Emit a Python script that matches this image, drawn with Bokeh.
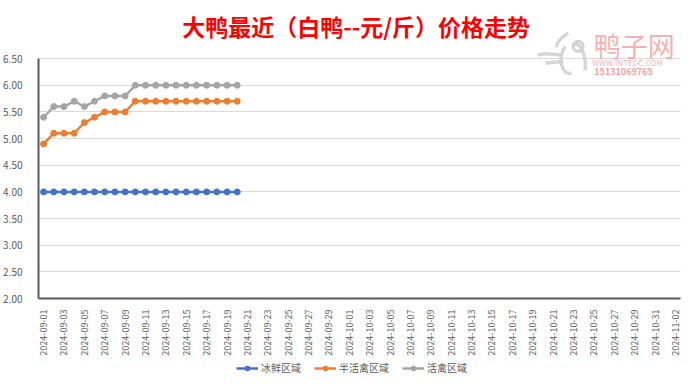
import pandas as pd
from bokeh.plotting import figure
from bokeh.layouts import column
from bokeh.models import (ColumnDataSource, FixedTicker, NumeralTickFormatter,
                          Legend, LegendItem, Label, Range1d)
from bokeh.embed import file_html
from bokeh.resources import INLINE

# ---- data ----
all_dates = [d.strftime("%Y-%m-%d") for d in pd.date_range("2024-09-01", "2024-11-02", freq="D")]
data_dates = all_dates[:20]  # 2024-09-01 .. 2024-09-20
series_names = ["冰鲜区域", "半活禽区域", "活禽区域"]
bingxian = [4.0] * 20
banhuoqin = [4.9, 5.1, 5.1, 5.1, 5.3, 5.4, 5.5, 5.5, 5.5,
             5.7, 5.7, 5.7, 5.7, 5.7, 5.7, 5.7, 5.7, 5.7, 5.7, 5.7]
huoqin = [5.4, 5.6, 5.6, 5.7, 5.6, 5.7, 5.8, 5.8, 5.8,
          6.0, 6.0, 6.0, 6.0, 6.0, 6.0, 6.0, 6.0, 6.0, 6.0, 6.0]
y_ticks = [2.0, 2.5, 3.0, 3.5, 4.0, 4.5, 5.0, 5.5, 6.0, 6.5]
colors = ["#4472C4", "#ED7D31", "#A5A5A5"]
title_text = "大鸭最近（白鸭--元/斤）价格走势"

FONT = "Noto Sans CJK SC"
TXT = "#595959"
Y_TOP = 7.44  # head-room above the last tick for title / watermark

x_idx = [all_dates.index(d) for d in data_dates]
sources = [ColumnDataSource(dict(x=x_idx, y=v)) for v in (bingxian, banhuoqin, huoqin)]

p = figure(width=684, height=358, output_backend="svg", toolbar_location=None,
           title=None,
           x_range=Range1d(-0.5, len(all_dates) - 0.5), y_range=Range1d(2.0, Y_TOP),
           min_border_left=28, min_border_right=4, min_border_top=8, min_border_bottom=59)
p.outline_line_color = None
p.background_fill_color = "white"


# helpers mapping reference-pixel positions (decorations only) into data space
def dx(px):
    return (px - 36) / 10.33 - 0.5


def dy(py):
    return 6.5 - (py - 59.3) / 53.3


for src, c in zip(sources, colors):
    p.line("x", "y", source=src, line_color=c, line_width=2.5)
    p.scatter("x", "y", source=src, size=6, fill_color=c, line_color=c)

# axes
p.yaxis.ticker = FixedTicker(ticks=y_ticks)
p.yaxis.bounds = (y_ticks[0], y_ticks[-1])
p.yaxis.formatter = NumeralTickFormatter(format="0.00")
p.yaxis.major_label_text_font = FONT
p.yaxis.major_label_text_font_size = "10px"
p.yaxis.major_label_text_color = TXT
p.yaxis.axis_line_color = TXT
p.yaxis.axis_line_width = 2
p.yaxis.major_tick_line_color = None
p.yaxis.minor_tick_line_color = None
p.yaxis.major_label_standoff = 10

tick_pos = list(range(0, len(all_dates), 2))
p.xaxis.ticker = FixedTicker(ticks=tick_pos)
p.xaxis.major_label_overrides = {i: all_dates[i] for i in tick_pos}
p.xaxis.major_label_orientation = 3.14159265 / 2
p.xaxis.major_label_text_font = FONT
p.xaxis.major_label_text_font_size = "9px"
p.xaxis.major_label_text_color = TXT
p.xaxis.axis_line_color = TXT
p.xaxis.axis_line_width = 2
p.xaxis.major_tick_line_color = None
p.xaxis.minor_tick_line_color = None
p.xaxis.major_label_standoff = 5

p.xgrid.grid_line_color = None
p.ygrid.grid_line_color = "#D9D9D9"
p.ygrid.grid_line_width = 1

# title
p.add_layout(Label(x=dx(358), y=dy(27), text=title_text, text_align="center",
                   text_baseline="middle", text_font=FONT, text_font_size="23px",
                   text_font_style="bold", text_color="#FF0000"))

# watermark logo (light grey strokes)
LOGO = "#D2D2D2"
p.bezier(x0=[dx(573), dx(570), dx(578), dx(542), dx(550)],
         y0=[dy(34), dy(47), dy(46), dy(56), dy(64)],
         x1=[dx(562), dx(576), dx(590), dx(566), dx(568)],
         y1=[dy(48), dy(74), dy(71), dy(55), dy(62)],
         cx0=[dx(566), dx(562), dx(585), dx(552), dx(558)],
         cy0=[dy(38), dy(58), dy(40), dy(52), dy(62)],
         cx1=[dx(560), dx(566), dx(592), dx(560), dx(564)],
         cy1=[dy(44), dy(76), dy(58), dy(57), dy(63)],
         line_color=LOGO, line_width=3.5, line_alpha=0.9)
p.scatter(x=[dx(583)], y=[dy(47)], size=10, marker="circle",
          fill_color=None, line_color=LOGO, line_width=3)

# watermark text
p.add_layout(Label(x=dx(640), y=dy(46), text="鸭子网", text_align="center",
                   text_baseline="middle", text_font=FONT, text_font_size="27px",
                   text_color="#F3A3A3", text_alpha=0.85))
p.add_layout(Label(x=dx(633), y=dy(63), text="WWW.INTEDC.COM", text_align="center",
                   text_baseline="middle", text_font=FONT, text_font_size="8px",
                   text_color="#EDB5B5"))
p.add_layout(Label(x=dx(629), y=dy(72.5), text="15131069765", text_align="center",
                   text_baseline="middle", text_font=FONT, text_font_size="9px",
                   text_font_style="bold", text_color="#F2A0A0"))

# ---- legend strip below the chart (series drawn off-range, only the key shows) ----
lg = figure(width=684, height=18, output_backend="svg", toolbar_location=None,
            title=None, x_range=Range1d(-0.5, len(all_dates) - 0.5),
            y_range=Range1d(100, 101), min_border=0)
lg.axis.visible = False
lg.grid.visible = False
lg.outline_line_color = None
items = []
for name, src, c in zip(series_names, sources, colors):
    r1 = lg.line("x", "y", source=src, line_color=c, line_width=2.5)
    r2 = lg.scatter("x", "y", source=src, size=6, fill_color=c, line_color=c)
    items.append(LegendItem(label=name, renderers=[r1, r2]))
legend = Legend(items=items, orientation="horizontal", location=(198, 1),
                label_text_font=FONT, label_text_font_size="10px",
                label_text_color=TXT, border_line_color=None,
                glyph_width=22, glyph_height=12, label_height=12,
                label_standoff=3, spacing=13, padding=2, margin=0,
                background_fill_alpha=0)
lg.add_layout(legend)

open("out.html", "w").write(file_html(column(p, lg, spacing=0), INLINE))
